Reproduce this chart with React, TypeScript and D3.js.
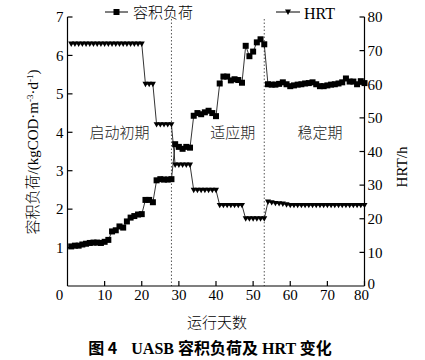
import React from "react";
import * as d3 from "d3";

const days: number[] = Array.from({ length: 80 }, (_, i) => i + 1);

const loadValues: number[] = [
  1.03, 1.05, 1.05, 1.08, 1.1, 1.12, 1.13, 1.13, 1.12, 1.15,
  1.2, 1.42, 1.45, 1.55, 1.52, 1.68, 1.78, 1.82, 1.86, 1.87,
  2.24, 2.24, 2.18, 2.75, 2.78, 2.77, 2.77, 2.78, 3.69, 3.62,
  3.57, 3.62, 3.6, 4.43, 4.5, 4.47, 4.52, 4.56, 4.5, 4.42,
  5.27, 5.45, 5.45, 5.35, 5.38, 5.36, 5.29, 6.25, 5.98, 6.1,
  6.34, 6.42, 6.29, 5.25, 5.24, 5.24, 5.26, 5.3, 5.25, 5.2,
  5.22, 5.24, 5.25, 5.27, 5.28, 5.3, 5.25, 5.2, 5.2, 5.22,
  5.24, 5.25, 5.27, 5.3, 5.4, 5.32, 5.32, 5.25, 5.33, 5.28,
];

const hrtValues: number[] = [
  72, 72, 72, 72, 72, 72, 72, 72, 72, 72,
  72, 72, 72, 72, 72, 72, 72, 72, 72, 72,
  60, 60, 60, 48, 48, 48, 48, 48, 36, 36,
  36, 36, 36, 28.5, 28.5, 28.5, 28.5, 28.5, 28.5, 28.5,
  24, 24, 24, 24, 24, 24, 24, 20, 20, 20,
  20, 20, 20, 25, 24.8, 24.6, 24.5, 24.4, 24.2, 24,
  24, 24, 24, 24, 24, 24, 24, 24, 24, 24,
  24, 24, 24, 24, 24, 24, 24, 24, 24, 24,
];

const xTicks: number[] = [10, 20, 30, 40, 50, 60, 70, 80];
const leftTicks: number[] = [1, 2, 3, 4, 5, 6, 7];
const rightTicks: number[] = [10, 20, 30, 40, 50, 60, 70, 80];
const phaseBounds: number[] = [28, 53];
const phaseLabels: { label: string; day: number; y: number }[] = [
  { label: "启动初期", day: 14, y: 4 },
  { label: "适应期", day: 44.5, y: 4 },
  { label: "稳定期", day: 68, y: 4 },
];

const serif = "'Liberation Serif', 'DejaVu Serif', serif";
const cjk = "'Noto Sans CJK SC', sans-serif";

export default function App() {
  const W = 425;
  const H = 360;
  const left = 67.5;
  const right = 364.5;
  const top = 17;
  const bottom = 286;

  const x = d3.scaleLinear().domain([0, 80]).range([left, right]);
  const yL = d3.scaleLinear().domain([0, 7]).range([bottom, top]);
  const yR = d3.scaleLinear().domain([0, 80]).range([bottom, top]);

  const loadLine = d3
    .line<number>()
    .x((_, i) => x(days[i]))
    .y((d) => yL(d))(loadValues) as string;
  const hrtLine = d3
    .line<number>()
    .x((_, i) => x(days[i]))
    .y((d) => yR(d))(hrtValues) as string;

  const tri = (cx: number, cy: number, s = 6) =>
    `M${cx - s / 2},${cy - s * 0.4}L${cx + s / 2},${cy - s * 0.4}L${cx},${cy + s * 0.5}Z`;

  const fs = 15;

  return (
    <svg width={W} height={H} style={{ position: "absolute", left: 0, top: 0, background: "#fff" }}>
      <rect width={W} height={H} fill="#fff" />
      {/* phase dividers */}
      {phaseBounds.map((d) => (
        <line key={d} x1={x(d)} x2={x(d)} y1={top + 2} y2={bottom} stroke="#555" strokeWidth={1} strokeDasharray="1.5,2" />
      ))}
      {/* axes */}
      <line x1={left} x2={left} y1={top} y2={bottom} stroke="#000" strokeWidth={1.2} />
      <line x1={right} x2={right} y1={top} y2={bottom} stroke="#000" strokeWidth={1.2} />
      <line x1={left} x2={right} y1={bottom} y2={bottom} stroke="#000" strokeWidth={1.2} />
      {leftTicks.map((t) => (
        <g key={"l" + t}>
          <line x1={left} x2={left + 5} y1={yL(t)} y2={yL(t)} stroke="#000" strokeWidth={1.2} />
          <text x={left - 4} y={yL(t)} dy="0.35em" textAnchor="end" fontFamily={serif} fontSize={fs}>{t}</text>
        </g>
      ))}
      {rightTicks.map((t) => (
        <g key={"r" + t}>
          <line x1={right - 5} x2={right} y1={yR(t)} y2={yR(t)} stroke="#000" strokeWidth={1.2} />
          <text x={right + 3} y={yR(t)} dy="0.35em" textAnchor="start" fontFamily={serif} fontSize={fs}>{t}</text>
        </g>
      ))}
      <text x={right + 3} y={yR(0)} dy="0.2em" textAnchor="start" fontFamily={serif} fontSize={fs}>0</text>
      {xTicks.map((t) => (
        <g key={"x" + t}>
          <line x1={x(t)} x2={x(t)} y1={bottom} y2={bottom - 5} stroke="#000" strokeWidth={1.2} />
          <text x={t === 80 ? x(t) - 3 : x(t)} y={bottom + 9} dy="0.35em" textAnchor="middle" fontFamily={serif} fontSize={fs}>{t}</text>
        </g>
      ))}
      <text x={left - 8} y={bottom + 9} dy="0.35em" textAnchor="middle" fontFamily={serif} fontSize={fs}>0</text>

      {/* series */}
      <path d={hrtLine} fill="none" stroke="#000" strokeWidth={0.8} />
      {hrtValues.map((v, i) => (
        <path key={"h" + i} d={tri(x(days[i]), yR(v))} fill="#000" />
      ))}
      <path d={loadLine} fill="none" stroke="#000" strokeWidth={0.8} />
      {loadValues.map((v, i) => (
        <rect key={"s" + i} x={x(days[i]) - 3} y={yL(v) - 3} width={6} height={6} fill="#000" />
      ))}

      {/* phase labels */}
      {phaseLabels.map((p) => (
        <text key={p.label} x={x(p.day)} y={yL(p.y)} dy="0.35em" textAnchor="middle" fontFamily={cjk} fontSize={15} fontWeight={300} fill="#222">{p.label}</text>
      ))}

      {/* legend */}
      <line x1={105} x2={128} y1={12} y2={12} stroke="#000" strokeWidth={1} />
      <rect x={113.5} y={9} width={6} height={6} fill="#000" />
      <text x={133} y={13} dy="0.35em" fontFamily={cjk} fontSize={15} fontWeight={300}>容积负荷</text>
      <line x1={276} x2={300} y1={12} y2={12} stroke="#000" strokeWidth={1} />
      <path d={tri(288, 12)} fill="#000" />
      <text x={304} y={13} dy="0.35em" fontFamily={serif} fontSize={16}>HRT</text>

      {/* axis titles */}
      <text transform={`translate(33,152) rotate(-90)`} textAnchor="middle" dy="0.35em" fontSize={15}>
        <tspan fontFamily={cjk} fontWeight={300}>容积负荷</tspan>
        <tspan fontFamily={serif}>/(kgCOD·m</tspan>
        <tspan fontFamily={serif} fontSize={9} dy="-5">-3</tspan>
        <tspan fontFamily={serif} dy="5">·d</tspan>
        <tspan fontFamily={serif} fontSize={9} dy="-5">-1</tspan>
        <tspan fontFamily={serif} dy="5">)</tspan>
      </text>
      <text transform={`translate(402,167) rotate(-90)`} textAnchor="middle" dy="0.35em" fontFamily={serif} fontSize={15}>HRT/h</text>
      <text x={217} y={323} dy="0.35em" textAnchor="middle" fontFamily={cjk} fontSize={15} fontWeight={300}>运行天数</text>
      <text x={210} y={348} dy="0.35em" textAnchor="middle" fontSize={16} fontWeight="bold">
        <tspan fontFamily={cjk}>图 4</tspan>
        <tspan fontFamily={serif} dx="14">UASB </tspan>
        <tspan fontFamily={cjk}>容积负荷及</tspan>
        <tspan fontFamily={serif}> HRT </tspan>
        <tspan fontFamily={cjk}>变化</tspan>
      </text>
    </svg>
  );
}
